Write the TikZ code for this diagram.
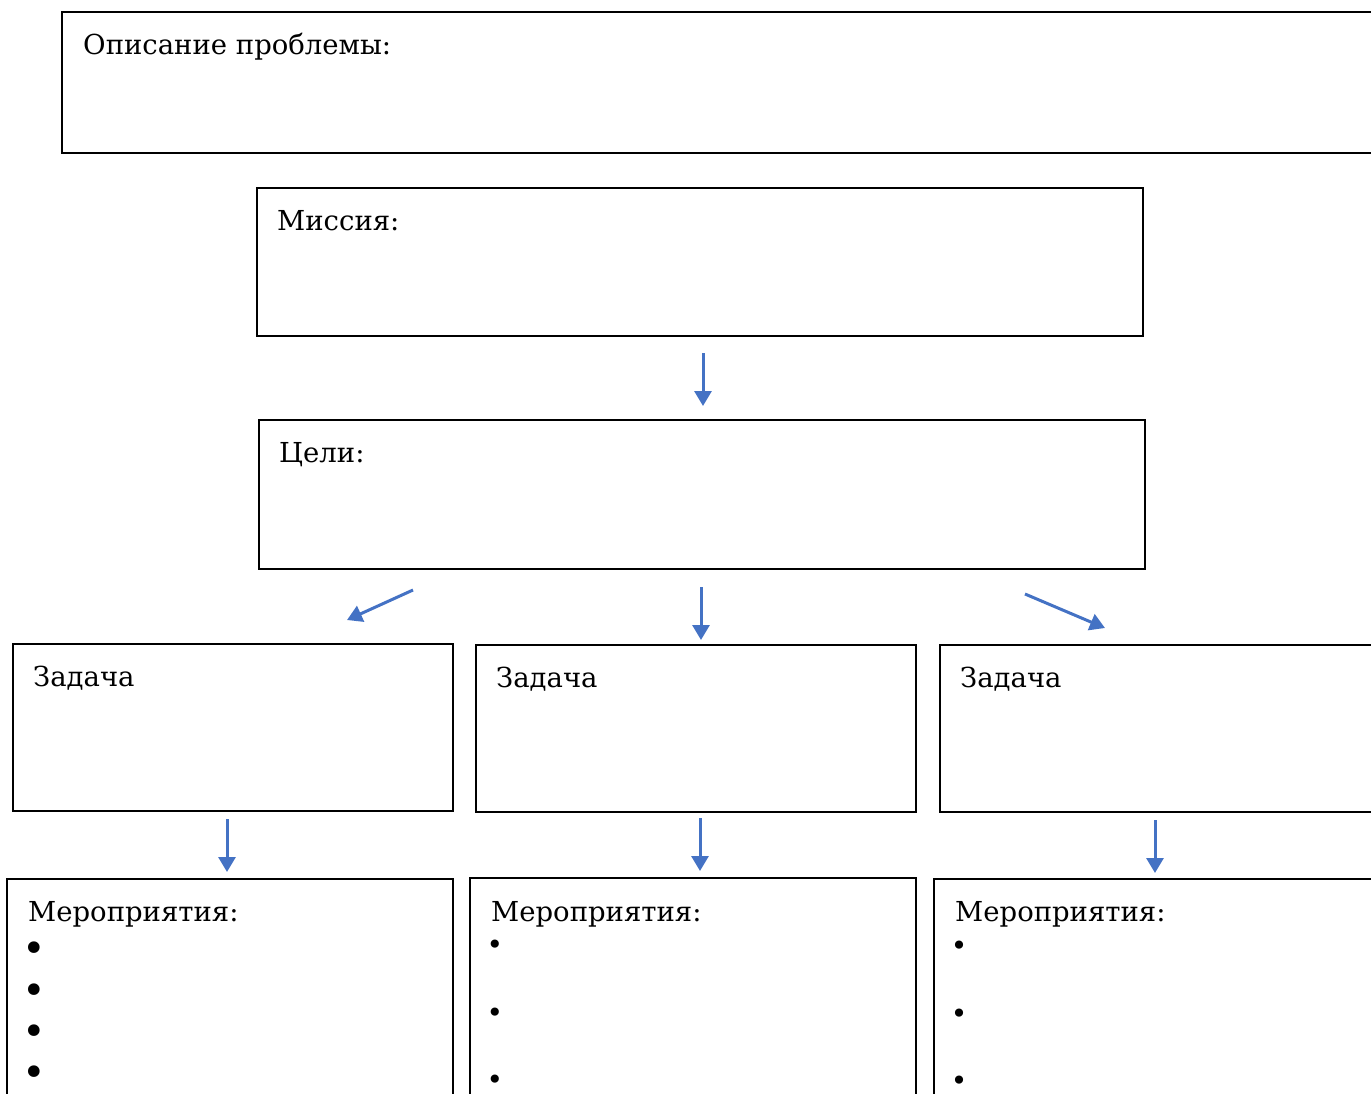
\documentclass[tikz,border=0pt]{standalone}
\usepackage{fontspec}
\setmainfont{DejaVu Serif}
\usetikzlibrary{arrows.meta}
\definecolor{arrowblue}{HTML}{4472C4}

\begin{document}
\begin{tikzpicture}[x=1pt, y=-1pt,
  box/.style 2 args = {draw, line width=1.5pt, inner sep=0, outer sep=0, anchor=north west, minimum width=#1pt, minimum height=#2pt},
  lbl/.style = {anchor=base west, inner sep=0, font=\fontsize{27.5}{32}\selectfont},
  bigdot/.style = {inner sep=0, font=\fontsize{40}{40}\selectfont},
  smalldot/.style = {inner sep=0, font=\fontsize{28}{28}\selectfont},
  link/.style = {arrowblue, line width=3pt, -{Triangle[length=15pt, width=17pt]}}]
	\useasboundingbox (0,0) rectangle (1371,1093);
	% boxes
	\node[box={1318}{141}] (prob) at (62, 12){};
	\node[box={886}{148}] (miss) at (257, 188){};
	\node[box={886}{149}] (goal) at (259, 420){};
	\node[box={440}{167}] (taskA) at (13, 644){};
	\node[box={440}{167}] (taskB) at (476, 645){};
	\node[box={440}{167}] (taskC) at (940, 645){};
	\node[box={446}{230}] (actA) at (7, 879){};
	\node[box={446}{230}] (actB) at (470, 878){};
	\node[box={446}{230}] (actC) at (934, 879){};
	% labels
	\node[lbl] (probT) at (83, 54){Описание проблемы:};
	\node[lbl] (missT) at (277, 230){Миссия:};
	\node[lbl] (goalT) at (279, 462){Цели:};
	\node[lbl] (taskAT) at (33, 686){Задача};
	\node[lbl] (taskBT) at (496, 687){Задача};
	\node[lbl] (taskCT) at (960, 687){Задача};
	\node[lbl] (actAT) at (28, 921){Мероприятия:};
	\node[lbl] (actBT) at (491, 921){Мероприятия:};
	\node[lbl] (actCT) at (955, 921){Мероприятия:};
	% bullets
	\foreach \y [count=\i] in {952, 994, 1035, 1076}
	    \node[bigdot] (dotA\i) at (34, \y){•};
	\foreach \y [count=\i] in {947, 1015, 1082}{
	    \node[smalldot] (dotB\i) at (495, \y){•};
	    \node[smalldot] (dotC\i) at (959, \y+1){•};
	}
	% arrows
	\draw[link] ([xshift=3pt, yshift=-17pt]miss.south) -- ([xshift=1pt, yshift=14pt]goal.north);
	\draw[link] ([xshift=-289pt, yshift=-21pt]goal.south) -- ([xshift=114pt, yshift=24pt]taskA.north);
	\draw[link] ([xshift=-1pt, yshift=-18pt]goal.south) -- ([xshift=5pt, yshift=5pt]taskB.north);
	\draw[link] ([xshift=323pt, yshift=-25pt]goal.south) -- ([xshift=-55pt, yshift=17pt]taskC.north);
	\draw[link] ([xshift=-6pt, yshift=-8pt]taskA.south) -- ([xshift=-3pt, yshift=7pt]actA.north);
	\draw[link] ([xshift=4pt, yshift=-6pt]taskB.south) -- ([xshift=7pt, yshift=7pt]actB.north);
	\draw[link] ([xshift=-5pt, yshift=-8pt]taskC.south) -- ([xshift=-2pt, yshift=6pt]actC.north);
\end{tikzpicture}
\end{document}
